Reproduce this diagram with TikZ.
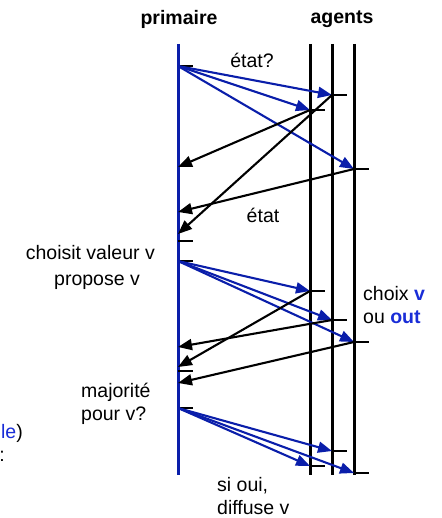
\documentclass[tikz,border=0pt]{standalone}
\usepackage{fontspec}
\setmainfont{Liberation Sans}
\usetikzlibrary{arrows.meta}
\usetikzlibrary{positioning}
\usetikzlibrary{calc}

\definecolor{lineblue}{RGB}{10,30,170}
\definecolor{textblue}{RGB}{25,45,215}

\begin{document}
\begin{tikzpicture}[x=1pt, y=-1pt,
    every node/.style={inner sep=0pt, font=\fontsize{19.5}{23.5}\selectfont},
    lifeline/.style={line width=3pt},
    tick/.style={line width=2.8pt},
    msg/.style={line width=2.1pt, -{Triangle[length=14pt, width=11pt]}}]

        \useasboundingbox (0,0) rectangle (441,518);

        % x of the primary
        \def\px{178}

        % Length of the ticks
        \def\tlen{15}

        % Top and bottom of the lifelines
        \def\ltop{44}
        \def\lbot{475}

        % Headers
        \node[font=\fontsize{19.5}{23.5}\selectfont\bfseries] (primaire) at (179,19) {primaire};
        \node[font=\fontsize{19.5}{23.5}\selectfont\bfseries] (agents) at (342,19) {agents};

        % Lifelines
        \coordinate (ptop) at (\px,\ltop);
        \coordinate (pbot) at (\px,\lbot);
        \draw[lifeline, lineblue] (ptop) -- (pbot);
        \foreach \n/\x in {a/310, b/332, c/354} {
          \coordinate (\n top) at (\x,\ltop);
          \coordinate (\n bot) at (\x,\lbot);
          \draw[lifeline] (\n top) -- (\n bot);
        }

        % Points on the primary
        \coordinate (p1) at (\px,66);
        \coordinate (p2) at (\px,261);
        \coordinate (p3) at (\px,408);
        \coordinate (t1) at (\px,241);
        \coordinate (t2) at (\px,371);

        % Replies arriving at the primary
        \coordinate (r1) at (\px,167);
        \coordinate (r2) at (\px,212);
        \coordinate (r3) at (\px,234);
        \coordinate (r4) at (\px,347);
        \coordinate (r5) at (\px,367);
        \coordinate (r6) at (\px,383);

        % Points on the agents
        \coordinate (a1) at (310,110);
        \coordinate (b1) at (332,95);
        \coordinate (c1) at (354,169);
        \coordinate (a2) at (310,291);
        \coordinate (b2) at (332,320);
        \coordinate (c2) at (354,342);
        \coordinate (a3) at (310,466);
        \coordinate (b3) at (332,451);
        \coordinate (c3) at (354,473);

        % Ticks
        \foreach \c in {p1, p2, p3, t1, t2, a1, b1, c1, a2, b2, c2, a3, b3, c3} {
          \draw[tick] (\c) -- ++(\tlen,0);
        }

        % Round 1: etat?
        \foreach \c in {b1, a1, c1} {
          \draw[msg, lineblue] (p1) -- (\c);
        }
        \draw[msg] (a1) -- (r1);
        \draw[msg] (c1) -- (r2);
        \draw[msg] (b1) -- (r3);

        % Round 2: propose v
        \foreach \c in {a2, b2, c2} {
          \draw[msg, lineblue] (p2) -- (\c);
        }
        \draw[msg] (b2) -- (r4);
        \draw[msg] (a2) -- (r5);
        \draw[msg] (c2) -- (r6);

        % Round 3: diffuse v
        \foreach \c in {b3, a3, c3} {
          \draw[msg, lineblue] (p3) -- (\c);
        }

        % Labels
        \node (etatq) at (252,60) {état?};
        \node (etat) at (263,215) {état};
        \node[anchor=east] (choisit) at (155,253) {choisit valeur v};
        \node (propose) at (97,282) {propose v};
        \node[anchor=west, align=left] (choix) at (363,305)
          {choix {\color{textblue}\bfseries v}\\ou {\color{textblue}\bfseries out}};
        \node[anchor=west, align=left] (majorite) at (81,404) {majorité\\pour v?};
        \node[anchor=west, align=left] (sioui) at (217,496) {si oui,\\diffuse v};
        \node[anchor=east] (cutle) at (23,433) {{\color{textblue}le})};
        \node[anchor=east] (cutcolon) at (5,456) {:};

      \end{tikzpicture}
\end{document}
